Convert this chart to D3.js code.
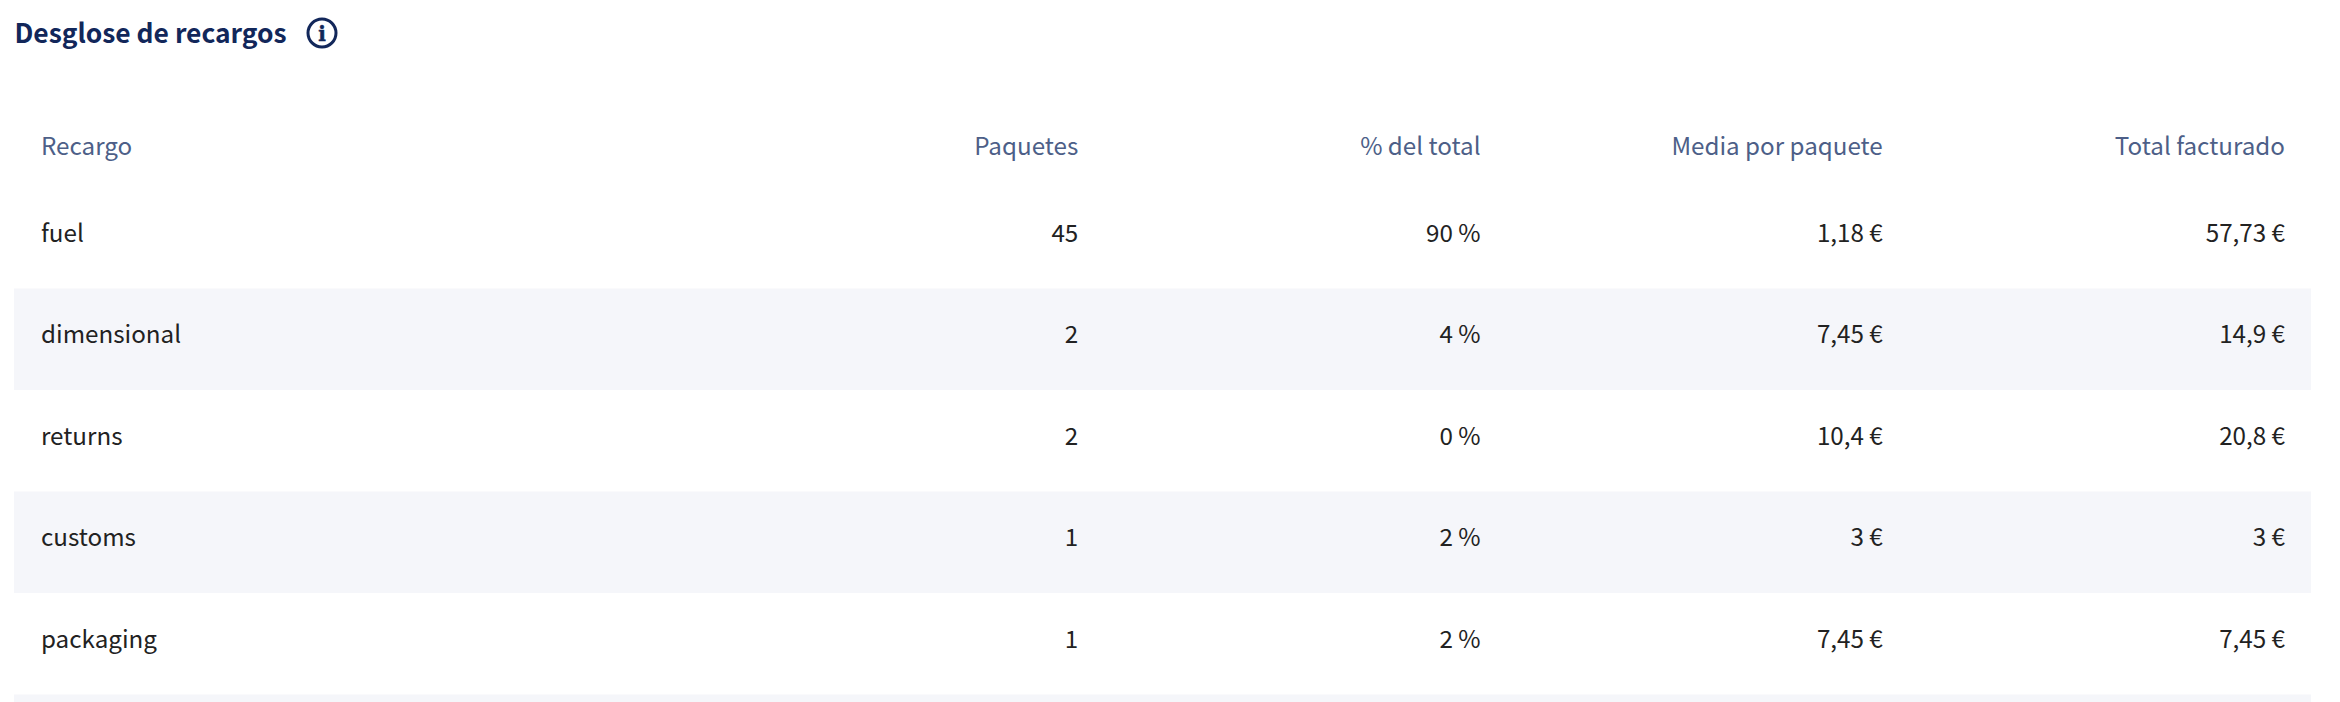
<!DOCTYPE html>
<html>
<head>
<meta charset="utf-8">
<style>
  html, body { margin: 0; padding: 0; background: #fff; overflow: hidden; }
  text { font-family: "Noto Sans CJK SC", "Noto Sans", sans-serif; }
</style>
<script src="https://cdn.jsdelivr.net/npm/d3@7/dist/d3.min.js"></script>
</head>
<body>
<div id="chart"></div>
<script>
const title = "Desglose de recargos";
const firstColumn = "Recargo";
const columns = ["Paquetes", "% del total", "Media por paquete", "Total facturado"];
const surcharges = ["fuel", "dimensional", "returns", "customs", "packaging", "other"];
const packages = [45, 2, 2, 1, 1];
const percents = [90, 4, 0, 2, 2];
const averages = [1.18, 7.45, 10.4, 3, 7.45];
const totals = [57.73, 14.9, 20.8, 3, 7.45];

const width = 2340, height = 702;
const left = 14, right = 2311;

const svg = d3.select("#chart").append("svg")
    .attr("width", width)
    .attr("height", height)
    .style("display", "block");

const es = d3.formatLocale({ decimal: ",", thousands: ".", grouping: [3], currency: ["", " €"] });
const euro = v => es.format("~f")(+v.toFixed(2)) + " €";
const pct = v => v + " %";

// first band row is the header, the sixth row is cut off by the bottom of the page
const yScale = d3.scaleBand().domain(surcharges).range([187, 187 + 101.5 * 6]);
// right edge of each numeric column = x + bandwidth
const xScale = d3.scaleBand().domain(columns).range([676, 2285]);

svg.selectAll("rect.band")
    .data(surcharges.filter((d, i) => i % 2 == 1))
    .enter().append("rect")
    .attr("class", "band")
    .attr("x", left)
    .attr("width", right - left)
    .attr("y", d => yScale(d))
    .attr("height", yScale.bandwidth())
    .style("fill", "#f5f6fa");

// title + info icon
svg.append("text")
    .attr("x", 14.5)
    .attr("y", 33)
    .attr("dy", ".36em")
    .style("font-size", "26.4px")
    .style("font-weight", 700)
    .style("fill", "#12275a")
    .text(title);

const icon = svg.append("g").attr("transform", "translate(322,33)");
icon.append("circle")
    .attr("r", 14)
    .style("fill", "none")
    .style("stroke", "#12275a")
    .style("stroke-width", 3);
icon.append("text")
    .attr("text-anchor", "middle")
    .attr("y", 7.5)
    .style("font-family", "'DejaVu Serif', serif")
    .style("font-size", "20px")
    .style("font-weight", 900)
    .style("stroke", "#12275a")
    .style("stroke-width", 0.5)
    .style("fill", "#12275a")
    .text("i");

// header
const headerY = 146;
svg.append("text")
    .attr("x", 41)
    .attr("y", headerY)
    .attr("dy", ".36em")
    .style("font-size", "24.2px")
    .style("fill", "#4d5f88")
    .text(firstColumn);

svg.selectAll("text.head")
    .data(columns)
    .enter().append("text")
    .attr("class", "head")
    .attr("x", d => xScale(d) + xScale.bandwidth())
    .attr("y", headerY)
    .attr("dy", ".36em")
    .attr("text-anchor", "end")
    .style("font-size", "24.2px")
    .style("fill", "#4d5f88")
    .text(d => d);

// body rows
const rows = surcharges.slice(0, packages.length).map((name, i) => ({
    name: name,
    cells: [packages[i], pct(percents[i]), euro(averages[i]), euro(totals[i])]
}));

const row = svg.selectAll("g.row")
    .data(rows)
    .enter().append("g")
    .attr("class", "row")
    .attr("transform", d => `translate(0,${yScale(d.name) + yScale.bandwidth() / 2 - 4.5})`);

row.append("text")
    .attr("x", 41)
    .attr("dy", ".36em")
    .style("font-size", "24.2px")
    .style("fill", "#222222")
    .text(d => d.name);

row.selectAll("text.cell")
    .data(d => d.cells.map((c, i) => ({ col: columns[i], value: c })))
    .enter().append("text")
    .attr("class", "cell")
    .attr("x", d => xScale(d.col) + xScale.bandwidth())
    .attr("dy", ".36em")
    .attr("text-anchor", "end")
    .style("font-size", "24.2px")
    .style("fill", "#222222")
    .text(d => d.value);
</script>
</body>
</html>
